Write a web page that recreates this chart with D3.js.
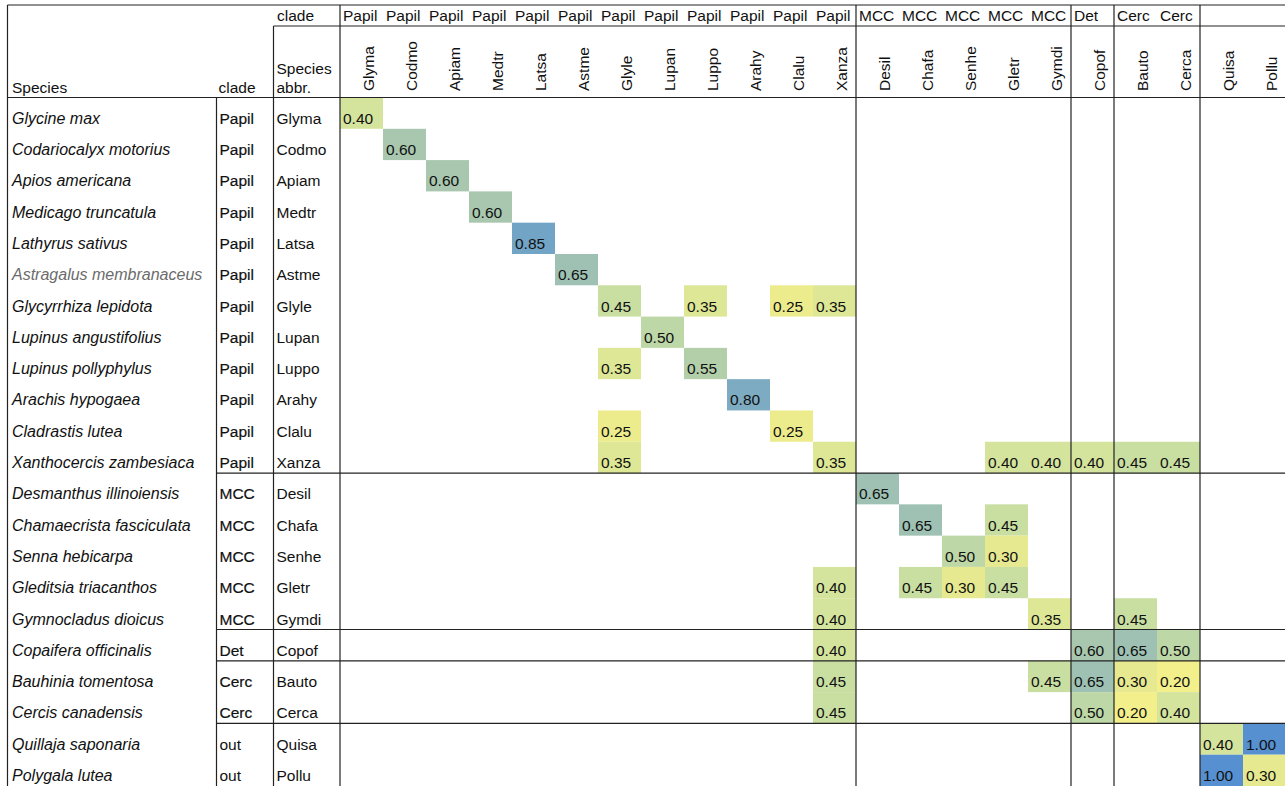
<!DOCTYPE html>
<html>
<head>
<meta charset="utf-8">
<script src="https://cdn.jsdelivr.net/npm/d3@7"></script>
<style>
  html, body { margin: 0; padding: 0; background: #fff; }
  svg { display: block; font-family: "Liberation Sans", Arial, Helvetica, sans-serif; }
</style>
</head>
<body>
<svg id="chart" width="1285" height="786"></svg>
<script>
// Species (rows) and their clade assignments
const speciesNames = [
  "Glycine max", "Codariocalyx motorius", "Apios americana", "Medicago truncatula",
  "Lathyrus sativus", "Astragalus membranaceus", "Glycyrrhiza lepidota", "Lupinus angustifolius",
  "Lupinus pollyphylus", "Arachis hypogaea", "Cladrastis lutea", "Xanthocercis zambesiaca",
  "Desmanthus illinoiensis", "Chamaecrista fasciculata", "Senna hebicarpa", "Gleditsia triacanthos",
  "Gymnocladus dioicus", "Copaifera officinalis", "Bauhinia tomentosa", "Cercis canadensis",
  "Quillaja saponaria", "Polygala lutea"
];
const abbrs = [
  "Glyma", "Codmo", "Apiam", "Medtr", "Latsa", "Astme", "Glyle", "Lupan", "Luppo", "Arahy",
  "Clalu", "Xanza", "Desil", "Chafa", "Senhe", "Gletr", "Gymdi", "Copof", "Bauto", "Cerca",
  "Quisa", "Pollu"
];
const clades = [
  "Papil", "Papil", "Papil", "Papil", "Papil", "Papil", "Papil", "Papil", "Papil", "Papil",
  "Papil", "Papil", "MCC", "MCC", "MCC", "MCC", "MCC", "Det", "Cerc", "Cerc", "out", "out"
];
// Column clade header (outgroup columns carry no label)
const columnCladeLabels = clades.map(c => c === "out" ? "" : c);

// Non-empty cells: [row abbr, column abbr, value]
const cellValues = [
  ["Glyma", "Glyma", 0.40],
  ["Codmo", "Codmo", 0.60],
  ["Apiam", "Apiam", 0.60],
  ["Medtr", "Medtr", 0.60],
  ["Latsa", "Latsa", 0.85],
  ["Astme", "Astme", 0.65],
  ["Glyle", "Glyle", 0.45], ["Glyle", "Luppo", 0.35], ["Glyle", "Clalu", 0.25], ["Glyle", "Xanza", 0.35],
  ["Lupan", "Lupan", 0.50],
  ["Luppo", "Glyle", 0.35], ["Luppo", "Luppo", 0.55],
  ["Arahy", "Arahy", 0.80],
  ["Clalu", "Glyle", 0.25], ["Clalu", "Clalu", 0.25],
  ["Xanza", "Glyle", 0.35], ["Xanza", "Xanza", 0.35], ["Xanza", "Gletr", 0.40], ["Xanza", "Gymdi", 0.40],
  ["Xanza", "Copof", 0.40], ["Xanza", "Bauto", 0.45], ["Xanza", "Cerca", 0.45],
  ["Desil", "Desil", 0.65],
  ["Chafa", "Chafa", 0.65], ["Chafa", "Gletr", 0.45],
  ["Senhe", "Senhe", 0.50], ["Senhe", "Gletr", 0.30],
  ["Gletr", "Xanza", 0.40], ["Gletr", "Chafa", 0.45], ["Gletr", "Senhe", 0.30], ["Gletr", "Gletr", 0.45],
  ["Gymdi", "Xanza", 0.40], ["Gymdi", "Gymdi", 0.35], ["Gymdi", "Bauto", 0.45],
  ["Copof", "Xanza", 0.40], ["Copof", "Copof", 0.60], ["Copof", "Bauto", 0.65], ["Copof", "Cerca", 0.50],
  ["Bauto", "Xanza", 0.45], ["Bauto", "Gymdi", 0.45], ["Bauto", "Copof", 0.65], ["Bauto", "Bauto", 0.30], ["Bauto", "Cerca", 0.20],
  ["Cerca", "Xanza", 0.45], ["Cerca", "Copof", 0.50], ["Cerca", "Bauto", 0.20], ["Cerca", "Cerca", 0.40],
  ["Quisa", "Quisa", 0.40], ["Quisa", "Pollu", 1.00],
  ["Pollu", "Quisa", 1.00], ["Pollu", "Pollu", 0.30]
];
// Species names printed in grey
const greySpecies = ["Astragalus membranaceus"];

// ---- layout ----
const svg = d3.select("#chart");
const W = 1285, H = 786;
const left = 7.5, topY = 5, cladeRowY = 26, headerBottom = 97.5;
const xSpeciesSep = 216.5, xCladeSep = 273.5, xDataStart = 340;
const fontSize = 15.5;
const speciesFontSize = 16;

const x = d3.scaleBand().domain(abbrs).range([xDataStart, xDataStart + 43 * abbrs.length]).padding(0);
const y = d3.scaleBand().domain(abbrs).range([headerBottom, H]).padding(0);

// yellow -> green -> blue heat scale
const color = d3.scaleLinear()
  .domain([0.20, 0.30, 0.40, 0.50, 0.60, 0.70, 0.85, 1.00])
  .range(["#f3ef8b", "#e6e98f", "#d4e49c", "#bdd7a6", "#a8c7ae", "#93bab8", "#72a4c5", "#5690d0"])
  .interpolate(d3.interpolateRgb);

// ---- cells ----
const cellG = svg.append("g");
cellG.selectAll("rect").data(cellValues).join("rect")
  .attr("x", d => x(d[1]))
  .attr("y", d => y(d[0]))
  .attr("width", x.bandwidth())
  .attr("height", y.bandwidth())
  .attr("fill", d => color(d[2]));
cellG.selectAll("text").data(cellValues).join("text")
  .attr("x", d => x(d[1]) + 3)
  .attr("y", d => y(d[0]) + y.bandwidth() - 5)
  .attr("font-size", fontSize)
  .attr("fill", "#111")
  .text(d => d3.format(".2f")(d[2]));

// ---- row labels ----
const rowG = svg.append("g");
rowG.selectAll("text.sp").data(speciesNames).join("text")
  .attr("class", "sp")
  .attr("x", left + 4.5)
  .attr("y", (d, i) => y(abbrs[i]) + y.bandwidth() - 5)
  .attr("font-size", speciesFontSize)
  .attr("font-style", "italic")
  .attr("fill", d => greySpecies.includes(d) ? "#6b6b6b" : "#111")
  .text(d => d);
rowG.selectAll("text.cl").data(clades).join("text")
  .attr("class", "cl")
  .attr("x", xSpeciesSep + 3)
  .attr("y", (d, i) => y(abbrs[i]) + y.bandwidth() - 5)
  .attr("font-size", fontSize)
  .attr("fill", "#111")
  .attr("stroke", d => d === "out" ? "none" : "#111")
  .attr("stroke-width", 0.2)
  .text(d => d);
rowG.selectAll("text.ab").data(abbrs).join("text")
  .attr("class", "ab")
  .attr("x", xCladeSep + 3)
  .attr("y", d => y(d) + y.bandwidth() - 5)
  .attr("font-size", fontSize)
  .attr("fill", "#111")
  .text(d => d);

// ---- column headers ----
const headG = svg.append("g");
headG.selectAll("text.ch").data(columnCladeLabels).join("text")
  .attr("class", "ch")
  .attr("x", (d, i) => x(abbrs[i]) + 3)
  .attr("y", cladeRowY - 5.5)
  .attr("font-size", fontSize)
  .attr("fill", "#111")
  .text(d => d);
headG.selectAll("text.ca").data(abbrs).join("text")
  .attr("class", "ca")
  .attr("transform", d => `translate(${x(d) + x.bandwidth() - 9},${headerBottom - 6.5}) rotate(-90)`)
  .attr("font-size", fontSize)
  .attr("fill", "#111")
  .text(d => d);

const headerText = [
  { t: "Species", x: left + 4.5, y: headerBottom - 5 },
  { t: "clade", x: xSpeciesSep + 2, y: headerBottom - 5 },
  { t: "Species", x: xCladeSep + 3, y: headerBottom - 24 },
  { t: "abbr.", x: xCladeSep + 3, y: headerBottom - 5 },
  { t: "clade", x: xCladeSep + 3.5, y: cladeRowY - 5.5 }
];
headG.selectAll("text.hd").data(headerText).join("text")
  .attr("class", "hd")
  .attr("x", d => d.x).attr("y", d => d.y)
  .attr("font-size", fontSize)
  .attr("fill", "#111")
  .text(d => d.t);

// ---- rules ----
const lineG = svg.append("g").attr("stroke", "#222").attr("stroke-width", 1.2).attr("fill", "none");
const hline = (x1, x2, yy) => lineG.append("line").attr("x1", x1).attr("x2", x2).attr("y1", yy).attr("y2", yy);
const vline = (xx, y1, y2) => lineG.append("line").attr("x1", xx).attr("x2", xx).attr("y1", y1).attr("y2", y2);

hline(left, W, topY);
hline(xCladeSep, W, cladeRowY);
hline(left, W, headerBottom);
vline(left, topY, H);
vline(xSpeciesSep, headerBottom, H);
vline(xCladeSep, cladeRowY, H);
vline(xDataStart, topY, H);

// clade group boundaries (column separators and row separators)
clades.forEach((c, i) => {
  if (i > 0 && c !== clades[i - 1]) {
    vline(x(abbrs[i]), topY, H);
    hline(xSpeciesSep, W, y(abbrs[i]));
  }
});
</script>
</body>
</html>
